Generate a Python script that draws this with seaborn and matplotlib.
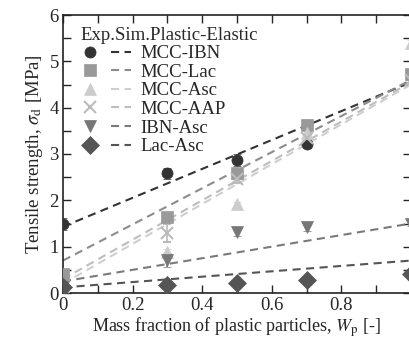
import numpy as np
import pandas as pd
import matplotlib
matplotlib.use("Agg")
import matplotlib.pyplot as plt
import seaborn as sns
from matplotlib.legend_handler import HandlerTuple
from matplotlib.lines import Line2D
from matplotlib.ticker import MultipleLocator

sns.set_style("ticks")
plt.rcParams['font.family'] = 'serif'
plt.rcParams['font.serif'] = ['Liberation Serif', 'DejaVu Serif']
plt.rcParams['mathtext.fontset'] = 'stix'

series = ["MCC-IBN", "MCC-Lac", "MCC-Asc", "MCC-AAP", "IBN-Asc", "Lac-Asc"]
x_exp = [0.0, 0.3, 0.5, 0.7, 1.0]
exp_mcc_ibn = [1.48, 2.58, 2.87, 3.22, np.nan]
exp_mcc_lac = [0.42, 1.65, 2.58, 3.62, 4.72]
exp_mcc_asc = [0.15, 0.88, 1.92, 3.45, 5.40]
exp_mcc_aap = [0.12, 1.30, 2.45, 3.35, 4.60]
exp_ibn_asc = [0.12, 0.72, 1.32, 1.42, 1.50]
exp_lac_asc = [0.12, 0.18, 0.22, 0.28, 0.42]
err_mcc_ibn = [0.13, 0.12, 0.13, 0.08, 0.0]
err_mcc_lac = [0.0, 0.05, 0.05, 0.05, 0.05]
err_mcc_asc = [0.0, 0.08, 0.05, 0.05, 0.05]
err_mcc_aap = [0.0, 0.20, 0.08, 0.08, 0.0]
err_ibn_asc = [0.04, 0.15, 0.08, 0.08, 0.05]
err_lac_asc = [0.0, 0.0, 0.0, 0.0, 0.0]

x_sim = [0.0, 1.0]
sim_mcc_ibn = [1.43, 4.55]
sim_mcc_lac = [0.70, 4.60]
sim_mcc_asc = [0.20, 4.50]
sim_mcc_aap = [0.30, 4.55]
sim_ibn_asc = [0.25, 1.50]
sim_lac_asc = [0.12, 0.70]

exp_vals = [exp_mcc_ibn, exp_mcc_lac, exp_mcc_asc, exp_mcc_aap, exp_ibn_asc, exp_lac_asc]
err_vals = [err_mcc_ibn, err_mcc_lac, err_mcc_asc, err_mcc_aap, err_ibn_asc, err_lac_asc]
sim_vals = [sim_mcc_ibn, sim_mcc_lac, sim_mcc_asc, sim_mcc_aap, sim_ibn_asc, sim_lac_asc]

marker_colors = ["#333333", "#999999", "#cccccc", "#bbbbbb", "#777777", "#555555"]
line_colors = ["#333333", "#8c8c8c", "#cfcfcf", "#bdbdbd", "#7a7a7a", "#555555"]
markers = ["o", "s", "^", "x", "v", "D"]
msizes = [8, 8, 9, 8, 9, 9]
dash = (0, (3.9, 2.6))

sim_df = pd.DataFrame({
    "x": np.tile(x_sim, len(series)),
    "y": np.concatenate(sim_vals),
    "series": np.repeat(series, len(x_sim)),
})

fig = plt.figure(figsize=(4.10, 3.40), dpi=100)
ax = fig.add_axes([63/410, 47/340, 348/410, 278/340])

sns.lineplot(data=sim_df, x="x", y="y", hue="series", hue_order=series,
             palette=line_colors, ax=ax, legend=False, linewidth=1.5,
             dashes=False, zorder=2)
for ln in ax.get_lines():
    ln.set_linestyle(dash)

handles = []
for i, name in enumerate(series):
    mew = 1.5 if markers[i] == "x" else 0.5
    ax.errorbar(x_exp, exp_vals[i], yerr=err_vals[i], fmt=markers[i],
                color=marker_colors[i], ms=msizes[i], mew=mew,
                capsize=3, elinewidth=1.2, capthick=1.2, zorder=3)
    mh = Line2D([], [], marker=markers[i], color=marker_colors[i], ls="none",
                ms=msizes[i], mew=mew)
    lh = Line2D([], [], color=line_colors[i], ls=dash, lw=1.5)
    handles.append((mh, lh))

ax.set_xlim(0, 1.0)
ax.set_ylim(0, 6)
ax.set_xticks([0, 0.2, 0.4, 0.6, 0.8])
ax.set_xticklabels(["0", "0.2", "0.4", "0.6", "0.8"])
ax.set_yticks([0, 1, 2, 3, 4, 5, 6])
ax.set_yticklabels(["0", "1", "2", "3", "4", "5", "6"])
ax.xaxis.set_minor_locator(MultipleLocator(0.1))
ax.yaxis.set_minor_locator(MultipleLocator(0.5))
ax.tick_params(which="both", direction="in", top=True, right=True, labelsize=13.5,
               width=1, length=6)
ax.tick_params(which="major", pad=3)
for s in ax.spines.values():
    s.set_linewidth(1.2)
    s.set_color("#222222")

ax.set_xlabel(r"Mass fraction of plastic particles, $W_\mathrm{p}$ [-]", fontsize=13, labelpad=1)
ax.set_ylabel(r"Tensile strength, $\sigma_\mathrm{d}$ [MPa]", fontsize=13.5, labelpad=3)

leg = ax.legend(handles, series, handler_map={tuple: HandlerTuple(ndivide=None, pad=0.6)},
                title="Exp.Sim.Plastic-Elastic", title_fontsize=13.5, fontsize=13.5,
                loc="upper left", bbox_to_anchor=(0.0287, 0.9856), frameon=False,
                handlelength=2.7, handletextpad=0.5, labelspacing=0.08,
                borderpad=0.05, borderaxespad=0.35, alignment="left")

fig.savefig("out.png", dpi=100)
